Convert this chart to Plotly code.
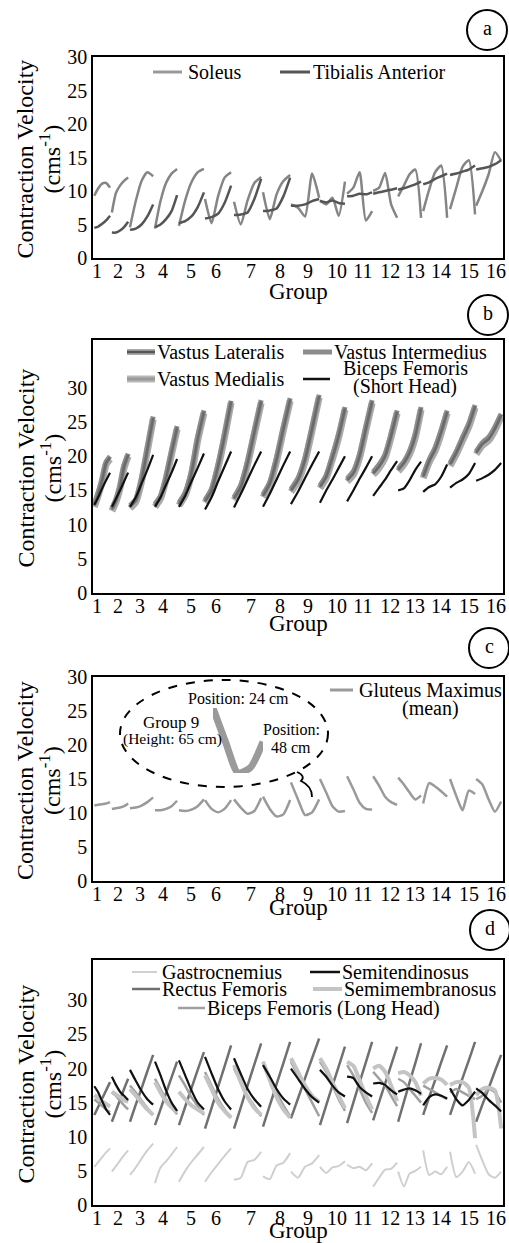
import plotly.graph_objects as go

SERIF = "Liberation Serif"
W, H = 509, 1243

# ---------------- shared x-axis data ----------------
group_labels = ["1", "2", "3", "4", "5", "6", "7", "8", "9", "10", "11", "12", "13", "14", "15", "16"]
tick_pos = [1.00, 1.79, 2.62, 3.48, 4.53, 5.47, 6.79, 7.88, 8.93, 10.02, 10.99, 12.02, 12.95, 13.93, 14.98, 16.00]
seg_start = [0.90, 1.56, 2.24, 3.18, 4.08, 5.06, 6.15, 7.24, 8.29, 9.38, 10.40, 11.38, 12.32, 13.26, 14.27, 15.25]
seg_end = [1.49, 2.17, 3.11, 4.01, 5.02, 6.04, 7.17, 8.26, 9.35, 10.32, 11.34, 12.28, 13.18, 14.16, 15.21, 16.19]

# ---------------- panel a ----------------
soleus = [
    [9.3, 10.4, 11.1, 11.2, 10.5], [6.8, 9.7, 10.8, 11.5, 12.0], [4.6, 8.5, 11.5, 12.8, 12.2],
    [4.4, 8.5, 11.2, 12.6, 13.3], [4.8, 8.6, 11.3, 12.8, 13.3], [8.8, 5.2, 9.2, 12.0, 12.8],
    [8.4, 5.0, 8.6, 11.2, 12.1], [9.8, 5.8, 9.5, 11.5, 12.4], [8.0, 7.5, 6.2, 12.6, 9.0],
    [8.6, 8.0, 9.0, 6.3, 11.4], [9.6, 10.5, 12.8, 5.6, 7.0], [10.0, 10.5, 12.7, 8.0, 6.0],
    [9.2, 10.8, 12.5, 13.2, 6.0], [7.0, 10.2, 12.8, 13.8, 6.0], [7.3, 10.5, 13.6, 14.6, 6.5],
    [7.8, 10.0, 12.5, 15.8, 14.5]]
tibialis_anterior = [
    [4.5, 4.7, 5.1, 5.6, 6.3], [3.8, 3.8, 4.1, 4.6, 5.4], [4.2, 4.4, 5.0, 6.2, 8.0],
    [4.6, 5.0, 5.8, 7.0, 9.4], [5.2, 5.5, 6.2, 7.6, 9.8], [5.9, 6.1, 6.6, 8.2, 10.8],
    [6.4, 6.5, 6.8, 8.8, 11.8], [7.0, 7.1, 7.4, 9.2, 12.0], [7.8, 7.8, 8.0, 8.5, 8.8],
    [8.5, 8.3, 8.6, 8.2, 8.1], [9.2, 9.3, 9.6, 9.5, 9.8], [9.6, 9.8, 10.0, 10.2, 10.4],
    [10.2, 10.4, 10.7, 11.0, 11.4], [11.0, 11.3, 11.8, 12.2, 12.6], [12.4, 12.6, 12.9, 13.2, 13.8],
    [13.2, 13.4, 13.6, 14.0, 14.6]]

# ---------------- panel b ----------------
vastus_lateralis = [
    [12.8, 14.5, 16.5, 19.0, 19.8], [12.2, 13.5, 15.5, 18.5, 20.2], [12.6, 13.5, 16.5, 21.0, 25.6],
    [12.8, 14.0, 16.8, 20.5, 24.2], [13.0, 14.5, 17.5, 22.5, 26.5], [13.4, 15.0, 18.5, 23.0, 28.0],
    [13.8, 15.5, 19.0, 23.5, 28.0], [14.2, 16.0, 19.5, 24.0, 28.3], [15.0, 16.5, 19.5, 24.0, 28.8],
    [15.5, 17.0, 19.8, 23.0, 27.0], [16.5, 17.5, 20.0, 24.0, 28.0], [17.5, 18.5, 20.0, 23.0, 26.5],
    [18.0, 19.0, 20.5, 23.0, 27.0], [17.0, 19.3, 21.0, 23.5, 26.5], [18.8, 20.5, 22.5, 24.5, 27.3],
    [20.5, 21.8, 22.5, 24.0, 26.0]]
vastus_intermedius = [
    [13.0, 14.7, 16.7, 19.2, 20.0], [12.4, 13.7, 15.7, 18.7, 20.4], [12.8, 13.7, 16.8, 21.3, 25.8],
    [13.0, 14.2, 17.0, 20.8, 24.4], [13.2, 14.7, 17.8, 22.8, 26.7], [13.6, 15.2, 18.8, 23.3, 28.1],
    [14.0, 15.8, 19.3, 23.8, 28.2], [14.4, 16.2, 19.8, 24.3, 28.5], [15.2, 16.8, 19.8, 24.3, 29.0],
    [15.7, 17.2, 20.1, 23.3, 27.2], [16.7, 17.8, 20.3, 24.3, 28.2], [17.7, 18.8, 20.3, 23.3, 26.7],
    [18.2, 19.2, 20.8, 23.3, 27.2], [17.2, 19.5, 21.3, 23.8, 26.7], [19.0, 20.7, 22.8, 24.8, 27.5],
    [20.7, 22.0, 22.8, 24.3, 26.2]]
vastus_medialis = [
    [12.6, 14.3, 16.3, 18.8, 19.6], [12.0, 13.3, 15.3, 18.3, 20.0], [12.4, 13.3, 16.3, 20.8, 25.4],
    [12.6, 13.8, 16.6, 20.3, 24.0], [12.8, 14.3, 17.3, 22.3, 26.3], [13.2, 14.8, 18.3, 22.8, 27.8],
    [13.6, 15.3, 18.8, 23.3, 27.8], [14.0, 15.8, 19.3, 23.8, 28.1], [14.8, 16.3, 19.3, 23.8, 28.6],
    [15.3, 16.8, 19.6, 22.8, 26.8], [16.3, 17.3, 19.8, 23.8, 27.8], [17.3, 18.3, 19.8, 22.8, 26.3],
    [17.8, 18.8, 20.3, 22.8, 26.8], [16.8, 19.1, 20.8, 23.3, 26.3], [18.6, 20.3, 22.3, 24.3, 27.1],
    [20.3, 21.6, 22.3, 23.8, 25.8]]
biceps_femoris_short = [
    [12.9, 14.0, 15.3, 16.5, 17.6], [12.6, 13.8, 15.0, 16.3, 17.6], [12.6, 14.0, 16.0, 18.0, 20.2],
    [12.6, 14.0, 15.8, 17.6, 19.6], [12.6, 14.2, 16.3, 18.3, 20.4], [12.2, 14.0, 16.3, 18.5, 20.7],
    [12.5, 14.5, 16.6, 18.7, 20.7], [12.6, 14.5, 16.6, 18.7, 20.7], [13.0, 14.8, 16.8, 18.8, 20.7],
    [13.2, 15.0, 16.6, 18.3, 20.0], [13.4, 15.0, 16.7, 18.3, 20.0], [14.2, 15.4, 16.6, 18.0, 19.3],
    [15.0, 15.3, 16.5, 18.0, 19.2], [14.8, 15.5, 15.9, 17.0, 18.8], [15.4, 16.1, 16.6, 17.4, 19.0],
    [16.4, 16.8, 17.3, 18.0, 19.0]]

# ---------------- panel c ----------------
gluteus_maximus = [
    [11.1, 11.2, 11.3, 11.4, 11.6], [10.6, 10.7, 10.8, 11.0, 11.4], [10.7, 10.8, 11.1, 11.6, 12.3],
    [10.4, 10.4, 10.6, 11.0, 11.8], [10.4, 10.3, 10.5, 11.0, 12.0], [11.9, 10.6, 10.1, 10.6, 11.9],
    [12.0, 10.8, 9.9, 10.3, 12.2], [12.4, 10.6, 9.5, 9.8, 11.9], [14.5, 12.0, 9.7, 10.1, 12.0],
    [15.0, 13.0, 11.0, 10.2, 10.3], [15.4, 13.5, 11.5, 10.6, 10.5], [15.4, 14.0, 12.4, 11.6, 11.2],
    [15.2, 14.2, 13.0, 12.0, 12.6], [11.4, 14.4, 13.9, 13.2, 12.4], [15.0, 12.5, 10.4, 13.3, 12.8],
    [15.0, 14.2, 12.0, 10.2, 11.7]]
inset_group = 9

# ---------------- panel d ----------------
gastrocnemius = [
    [5.6, 6.3, 7.0, 7.7, 8.3], [4.9, 5.7, 6.5, 7.3, 8.0], [4.4, 5.5, 6.8, 8.0, 9.0],
    [3.2, 5.5, 6.4, 7.4, 8.5], [3.4, 5.0, 6.3, 7.4, 8.5], [3.4, 4.8, 6.0, 7.2, 8.3],
    [3.7, 4.0, 6.3, 6.6, 7.8], [4.2, 3.8, 5.8, 6.2, 7.6], [4.9, 4.0, 5.6, 6.1, 7.3],
    [5.6, 4.7, 5.5, 5.7, 6.4], [5.9, 5.4, 5.6, 5.1, 6.1], [2.7, 4.0, 5.2, 5.3, 6.2],
    [4.9, 2.7, 4.6, 5.0, 5.6], [8.0, 4.4, 4.9, 4.5, 5.6], [7.8, 4.1, 4.9, 6.3, 4.6],
    [8.8, 6.5, 4.5, 4.0, 4.9]]
rectus_femoris = [
    [13.2, 14.4, 15.6, 16.8, 18.0], [12.2, 13.8, 15.4, 17.0, 18.5], [12.2, 14.7, 17.1, 19.6, 22.0],
    [11.7, 14.0, 16.4, 18.7, 21.0], [11.7, 14.4, 17.1, 19.8, 22.4], [11.2, 14.2, 17.3, 20.3, 23.4],
    [11.2, 14.3, 17.5, 20.6, 23.7], [11.5, 14.6, 17.7, 20.8, 23.9], [12.7, 15.6, 18.6, 21.5, 24.4],
    [11.7, 14.6, 17.5, 20.3, 23.2], [12.0, 15.0, 18.0, 20.9, 23.9], [12.4, 15.1, 17.8, 20.5, 23.2],
    [12.2, 15.1, 18.0, 20.8, 23.7], [13.2, 15.8, 18.3, 20.9, 23.4], [13.2, 15.9, 18.6, 21.2, 23.9],
    [12.2, 14.7, 17.1, 19.6, 22.0]]
semitendinosus = [
    [17.4, 16.5, 15.2, 14.0, 13.2], [18.8, 17.6, 16.6, 16.0, 15.4], [19.8, 18.2, 16.7, 15.5, 14.7],
    [21.0, 19.0, 16.8, 15.0, 13.8], [21.2, 19.0, 16.8, 15.0, 14.0], [21.7, 19.3, 17.0, 15.2, 14.0],
    [21.5, 19.2, 17.0, 15.5, 14.4], [20.5, 18.8, 17.0, 15.6, 14.7], [20.0, 18.5, 17.0, 15.8, 15.0],
    [19.8, 18.8, 17.5, 16.5, 15.9], [18.8, 18.6, 17.3, 16.5, 15.9], [17.8, 17.9, 17.6, 16.8, 16.2],
    [16.6, 16.9, 17.1, 16.8, 16.3], [14.6, 15.8, 16.2, 16.0, 15.6], [17.1, 15.5, 14.6, 15.4, 16.6],
    [17.1, 16.4, 15.4, 14.6, 13.7]]
semimembranosus = [
    [16.1, 15.7, 15.2, 14.8, 14.4], [16.6, 16.2, 15.8, 15.4, 15.1], [17.0, 16.0, 15.0, 14.0, 13.2],
    [18.0, 16.5, 15.2, 14.3, 13.6], [16.6, 15.5, 14.6, 14.0, 13.4], [19.0, 17.0, 15.0, 13.8, 12.8],
    [20.5, 18.0, 15.8, 14.2, 13.2], [21.0, 18.3, 15.8, 14.0, 12.8], [21.5, 19.5, 17.5, 16.0, 15.1],
    [21.5, 20.0, 18.0, 16.0, 14.2], [21.0, 20.4, 18.3, 16.0, 14.0], [20.0, 20.4, 19.5, 17.5, 15.2],
    [19.3, 19.5, 19.0, 18.0, 16.0], [17.8, 18.5, 18.6, 18.4, 17.6], [17.6, 18.0, 18.0, 17.2, 9.8],
    [16.1, 17.0, 17.2, 16.8, 11.2]]
biceps_femoris_long = [
    [15.5, 15.0, 14.5, 14.0, 13.6], [16.5, 16.0, 15.3, 14.6, 14.0], [17.5, 16.5, 15.3, 14.2, 13.2],
    [18.5, 17.0, 15.5, 14.3, 13.3], [19.0, 17.5, 15.8, 14.5, 13.2], [19.5, 17.5, 15.5, 14.0, 12.8],
    [20.0, 18.0, 16.0, 14.5, 13.0], [21.0, 18.8, 16.5, 14.6, 13.0], [21.0, 19.0, 17.0, 15.0, 13.0],
    [21.0, 19.5, 17.5, 15.5, 13.8], [20.5, 19.0, 17.0, 15.0, 13.5], [19.5, 18.5, 17.5, 16.0, 14.5],
    [18.5, 18.0, 17.0, 16.0, 15.0], [17.5, 17.0, 16.5, 16.0, 15.5], [16.5, 17.0, 16.5, 16.0, 15.5],
    [15.5, 16.0, 17.0, 16.5, 15.0]]

y_ticks = [0, 5, 10, 15, 20, 25, 30]
y_ranges = [[0, 30], [0, 37], [0, 30], [0, 35.9]]


def px(x):
    return x / W


def py(y):
    return 1 - y / H


fig = go.Figure()


def add_series(values, k, color, width, name):
    xs, ys = [], []
    for g, vals in enumerate(values):
        n = len(vals)
        for i, v in enumerate(vals):
            xs.append(seg_start[g] + (seg_end[g] - seg_start[g]) * i / (n - 1))
            ys.append(v)
        xs.append(None)
        ys.append(None)
    fig.add_trace(go.Scatter(
        x=xs, y=ys, mode="lines", name=name, showlegend=False,
        line=dict(color=color, width=width, shape="spline", smoothing=0.6),
        xaxis="x" if k == 1 else f"x{k}", yaxis="y" if k == 1 else f"y{k}",
        hoverinfo="skip"))


# panel a
add_series(soleus, 1, "#858585", 2.5, "Soleus")
add_series(tibialis_anterior, 1, "#555555", 2.5, "Tibialis Anterior")
# panel b
add_series(vastus_medialis, 2, "#ababab", 7, "Vastus Medialis")
add_series(vastus_intermedius, 2, "#8c8c8c", 5, "Vastus Intermedius")
add_series(vastus_lateralis, 2, "#6a6a6a", 2.5, "Vastus Lateralis")
add_series(biceps_femoris_short, 2, "#111111", 2.2, "Biceps Femoris (Short Head)")
# panel c
add_series(gluteus_maximus, 3, "#9a9a9a", 2.5, "Gluteus Maximus (mean)")
# panel d
add_series(gastrocnemius, 4, "#cfcfcf", 2, "Gastrocnemius")
add_series(rectus_femoris, 4, "#707070", 2.5, "Rectus Femoris")
add_series(biceps_femoris_long, 4, "#a0a0a0", 2.5, "Biceps Femoris (Long Head)")
add_series(semimembranosus, 4, "#c4c4c4", 4, "Semimembranosus")
add_series(semitendinosus, 4, "#111111", 2.2, "Semitendinosus")

# inset: magnified group 9 of gluteus maximus
ins = gluteus_maximus[inset_group - 1]
fig.add_trace(go.Scatter(
    x=list(range(len(ins))), y=ins, mode="lines", showlegend=False, hoverinfo="skip",
    line=dict(color="#9a9a9a", width=7, shape="spline", smoothing=0.6),
    xaxis="x5", yaxis="y5"))

x_dom = [px(93), px(503)]
plot_tb = [(57, 258), (340, 593), (677, 881), (960, 1205)]
group_title_y = [291, 623, 907, 1230]

layout = dict(
    width=W, height=H, paper_bgcolor="white", plot_bgcolor="white",
    margin=dict(l=0, r=0, t=0, b=0), showlegend=False,
    font=dict(family=SERIF, color="black"),
)
for k in range(1, 5):
    top, bot = plot_tb[k - 1]
    xs = "xaxis" if k == 1 else f"xaxis{k}"
    ys = "yaxis" if k == 1 else f"yaxis{k}"
    layout[xs] = dict(
        domain=x_dom, anchor="y" if k == 1 else f"y{k}", range=[0.85, 16.26],
        tickmode="array", tickvals=tick_pos, ticktext=group_labels,
        showline=True, linecolor="black", linewidth=1.5, mirror=True, ticks="",
        showgrid=False, zeroline=False, fixedrange=True, ticklabelstandoff=-6,
        tickfont=dict(family=SERIF, size=20, color="black"),
        automargin=False)
    layout[ys] = dict(
        domain=[py(bot), py(top)], anchor="x" if k == 1 else f"x{k}", range=y_ranges[k - 1],
        tickmode="array", tickvals=y_ticks,
        showline=True, linecolor="black", linewidth=1.5, mirror=True, ticks="",
        showgrid=False, zeroline=False, fixedrange=True,
        tickfont=dict(family=SERIF, size=20, color="black"),
        automargin=False)
layout["xaxis5"] = dict(domain=[px(213), px(263)], anchor="y5", visible=False,
                        range=[0, len(ins) - 1], fixedrange=True)
layout["yaxis5"] = dict(domain=[py(773), py(708)], anchor="x5", visible=False,
                        range=[min(ins), max(ins)], fixedrange=True)
fig.update_layout(**layout)

shapes = []
annotations = []


def leg_line(x0, x1, y, color, width):
    shapes.append(dict(type="line", xref="paper", yref="paper", x0=px(x0), x1=px(x1),
                       y0=py(y), y1=py(y), line=dict(color=color, width=width)))


def text(x, y, s, size=20, xanchor="left", angle=0):
    annotations.append(dict(x=px(x), y=py(y), xref="paper", yref="paper", text=s,
                            showarrow=False, xanchor=xanchor, yanchor="middle", textangle=angle,
                            font=dict(family=SERIF, size=size, color="black")))


# axis titles
for k in range(4):
    top, bot = plot_tb[k]
    text(298, group_title_y[k], "Group", 23, "center")
    text(25, (top + bot) / 2 + 2, "Contraction Velocity", 24, "center", -90)
    text(50, (top + bot) / 2 + 2, "(cms<sup>-1</sup>)", 24, "center", -90)

# circled panel letters
for letter, (cx, cy) in zip(["a", "b", "c", "d"], [(487, 30), (488, 315), (489, 648), (490, 930)]):
    shapes.append(dict(type="circle", xref="paper", yref="paper", x0=px(cx - 20), x1=px(cx + 20),
                       y0=py(cy + 20), y1=py(cy - 20), line=dict(color="black", width=2)))
    text(cx, cy - 2, letter, 20, "center")

# legend panel a
leg_line(153, 182, 72, "#9a9a9a", 3)
text(186, 72, "Soleus")
leg_line(280, 310, 72, "#555555", 3)
text(311, 72, "Tibialis Anterior")

# legend panel b
leg_line(127, 155, 352, "#ababab", 6)
leg_line(127, 155, 352, "#555555", 2.5)
text(155, 352, "Vastus Lateralis")
leg_line(303, 332, 352, "#8c8c8c", 5)
text(332, 352, "Vastus Intermedius")
leg_line(127, 155, 379, "#b8b8b8", 7)
leg_line(127, 155, 379, "#9a9a9a", 3)
text(155, 379, "Vastus Medialis")
leg_line(303, 330, 379, "#111111", 2.5)
text(405, 368, "Biceps Femoris", 20, "center")
text(405, 386, "(Short Head)", 20, "center")

# legend panel c
leg_line(330, 353, 690, "#9a9a9a", 3)
text(430, 690, "Gluteus Maximus", 20, "center")
text(430, 708, "(mean)", 20, "center")

# legend panel d
leg_line(132, 157, 972, "#d0d0d0", 2)
text(160, 972, "Gastrocnemius")
leg_line(310, 340, 972, "#111111", 2.5)
text(340, 972, "Semitendinosus")
leg_line(132, 160, 989, "#707070", 2.5)
text(160, 989, "Rectus Femoris")
leg_line(313, 342, 989, "#c4c4c4", 4)
text(342, 989, "Semimembranosus")
leg_line(178, 205, 1008, "#a0a0a0", 2.5)
text(205, 1008, "Biceps Femoris (Long Head)")

# inset decorations in panel c
shapes.append(dict(type="circle", xref="paper", yref="paper", x0=px(120), x1=px(328),
                   y0=py(787), y1=py(680), line=dict(color="black", width=2, dash="dash")))
shapes.append(dict(type="path", xref="paper", yref="paper",
                   path="M {:.4f} {:.4f} Q {:.4f} {:.4f} {:.4f} {:.4f} Q {:.4f} {:.4f} {:.4f} {:.4f}".format(
                       px(297), py(772), px(306), py(776), px(301), py(781),
                       px(312), py(786), px(312), py(797)),
                   line=dict(color="black", width=1.8)))
text(238, 698, "Position: 24 cm", 16, "center")
text(171, 722, "Group 9", 17, "center")
text(172, 739, "(Height: 65 cm)", 15.5, "center")
text(291, 729, "Position:", 16, "center")
text(291, 747, "48 cm", 16, "center")

fig.update_layout(shapes=shapes, annotations=annotations)
fig.write_html("out.html", config={"displayModeBar": False},
               post_script="document.body.style.margin='0';document.body.style.padding='0';"
                           "document.body.style.overflow='hidden';")
